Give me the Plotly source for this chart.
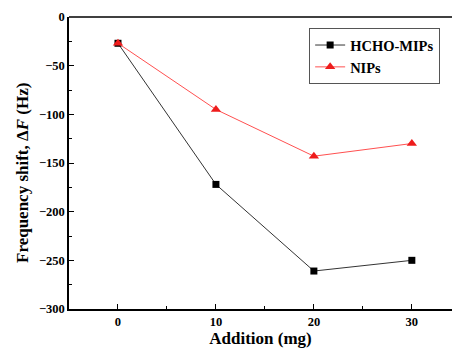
import plotly.graph_objects as go

addition = [0, 10, 20, 30]
mips = [-27, -172, -261, -250]
nips = [-27, -95, -143, -130]

fig = go.Figure()
fig.add_trace(go.Scatter(x=addition, y=mips, mode="lines+markers", name="HCHO-MIPs",
                         line=dict(color="#333333", width=1),
                         marker=dict(symbol="square", size=7, color="black")))
fig.add_trace(go.Scatter(x=addition, y=nips, mode="lines+markers", name="NIPs",
                         line=dict(color="#ff5050", width=1),
                         marker=dict(symbol="triangle-up", size=9, color="#ee1c1c")))

font = "Liberation Serif, Times New Roman, serif"
fig.update_layout(
    width=452, height=352,
    margin=dict(l=69, r=0, t=17, b=43),
    paper_bgcolor="white", plot_bgcolor="white",
    font=dict(family=font, color="black"),
    showlegend=True,
    legend=dict(x=0.627, y=0.962, xanchor="left", yanchor="top",
                bordercolor="#555555", borderwidth=1, bgcolor="white",
                font=dict(size=14.5, family=font, color="black", weight="bold"),
                tracegroupgap=0, itemwidth=30),
)
fig.update_xaxes(range=[-5, 34.1], tickvals=[0, 10, 20, 30], ticks="inside", ticklen=5,
                 tickcolor="black", showline=True, linecolor="black", linewidth=1.5,
                 showgrid=False, zeroline=False,
                 tickfont=dict(size=12.5, family=font, weight="bold"),
                 minor=dict(tickvals=[5, 15, 25], ticks="inside", ticklen=3, tickcolor="black"),
                 title=dict(text="<b>Addition (mg)</b>", font=dict(size=17, family=font), standoff=3))
fig.update_yaxes(range=[-300, 0], tickvals=[0, -50, -100, -150, -200, -250, -300], ticks="inside",
                 ticklen=5, tickcolor="black", showline=True, linecolor="black", linewidth=1.5,
                 showgrid=False, zeroline=False,
                 tickfont=dict(size=12.5, family=font, weight="bold"),
                 minor=dict(tickvals=[-25, -75, -125, -175, -225, -275], ticks="inside", ticklen=3, tickcolor="black"))
fig.add_annotation(text="<b>Frequency shift, Δ<i>F</i> (Hz)</b>", textangle=-90,
                   xref="paper", yref="paper", x=-0.12, y=0.466, xanchor="center", yanchor="middle",
                   showarrow=False, font=dict(size=17, family=font, color="black"))
fig.add_shape(type="line", xref="paper", yref="paper", x0=0, x1=1, y0=1, y1=1,
              line=dict(color="black", width=1.5))
fig.write_html("out.html", config={"displayModeBar": False},
               post_script="document.body.style.margin='0';document.body.style.padding='0';")
